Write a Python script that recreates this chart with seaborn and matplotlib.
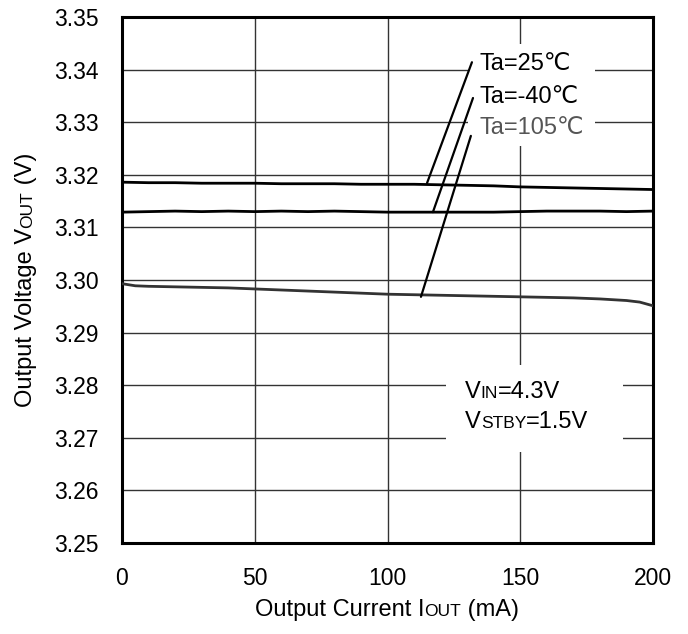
import matplotlib.pyplot as plt
import pandas as pd
import seaborn as sns
from matplotlib.patches import Rectangle

# % Data
current_25 = [0, 10, 20, 30, 40, 50, 60, 70, 80, 90, 100, 110, 120, 130, 140, 150, 160, 170, 180, 190, 200]
vout_25 = [3.3186, 3.3185, 3.3185, 3.3184, 3.3184, 3.3184, 3.3183, 3.3183, 3.3183, 3.3182, 3.3182,
           3.3182, 3.3181, 3.3180, 3.3179, 3.3177, 3.3176, 3.3175, 3.3174, 3.3173, 3.3172]

current_m40 = [0, 10, 20, 30, 40, 50, 60, 70, 80, 90, 100, 110, 120, 130, 140, 150, 160, 170, 180, 190, 200]
vout_m40 = [3.3129, 3.3130, 3.3131, 3.3130, 3.3131, 3.3130, 3.3131, 3.3130, 3.3131, 3.3130, 3.3129,
            3.3129, 3.3129, 3.3129, 3.3129, 3.3130, 3.3131, 3.3131, 3.3131, 3.3130, 3.3131]

current_105 = [0, 5, 10, 20, 30, 40, 50, 60, 70, 80, 90, 100, 110, 120, 130, 140, 150, 160, 170, 180, 190, 195, 200]
vout_105 = [3.2993, 3.2989, 3.2988, 3.2987, 3.2986, 3.2985, 3.2983, 3.2981, 3.2979, 3.2977, 3.2975, 3.2973,
            3.2972, 3.2971, 3.2970, 3.2969, 3.2968, 3.2967, 3.2966, 3.2964, 3.2961, 3.2958, 3.2951]

temp_labels = ["Ta=25℃", "Ta=-40℃", "Ta=105℃"]
x_ticks = [0, 50, 100, 150, 200]
y_ticks = [3.25, 3.26, 3.27, 3.28, 3.29, 3.30, 3.31, 3.32, 3.33, 3.34, 3.35]

df = pd.concat([
    pd.DataFrame({"current": current_25, "vout": vout_25, "temp": temp_labels[0]}),
    pd.DataFrame({"current": current_m40, "vout": vout_m40, "temp": temp_labels[1]}),
    pd.DataFrame({"current": current_105, "vout": vout_105, "temp": temp_labels[2]}),
])

# % Style
sns.set_theme(style="white")
plt.rcParams["font.family"] = ["Liberation Sans", "DejaVu Sans"]
FS = 16.5
LFS = 17
SMALL = 12.5

fig = plt.figure(figsize=(6.88, 6.34), dpi=100)
ax = fig.add_axes([122 / 688, 1 - 543 / 634, 531 / 688, 526 / 634])

sns.lineplot(
    data=df, x="current", y="vout", hue="temp",
    palette={temp_labels[0]: "black", temp_labels[1]: "black", temp_labels[2]: "#333333"},
    estimator=None, sort=False, linewidth=2.0, legend=False, ax=ax, zorder=3,
)

ax.set_xlim(0, 200)
ax.set_ylim(3.25, 3.35)
ax.set_xticks(x_ticks)
ax.set_yticks(y_ticks)
ax.set_yticklabels([f"{v:.2f}" for v in y_ticks])
ax.tick_params(axis="both", length=0, labelsize=FS, colors="black")
ax.tick_params(axis="y", pad=17)
ax.tick_params(axis="x", pad=17)
ax.set_xlabel("")
ax.set_ylabel("")
ax.grid(True, color="#333333", linewidth=1.0)
ax.set_axisbelow(True)
for sp in ax.spines.values():
    sp.set_color("black")
    sp.set_linewidth(2.2)

# white backing boxes behind the labels
ax.add_patch(Rectangle((130.3, 3.3255), 47.9, 0.0194, facecolor="white", edgecolor="none", zorder=1.5))
ax.add_patch(Rectangle((122, 3.2673), 66.7, 0.0165, facecolor="white", edgecolor="none", zorder=1.5))

# leader lines from labels to curves
leaders = [((131.8, 3.3414), (114.9, 3.31844)),
           ((132.2, 3.3346), (117.1, 3.3129)),
           ((131.4, 3.3274), (112.6, 3.2968))]
for top, bottom in leaders:
    ax.annotate("", xy=bottom, xytext=top,
                arrowprops=dict(arrowstyle="-", lw=1.6, color="black", shrinkA=0, shrinkB=0), zorder=4)

label_y = [3.3411, 3.3348, 3.3289]
label_colors = ["black", "black", "#555555"]
for lab, yy, cc in zip(temp_labels, label_y, label_colors):
    ax.text(134.8, yy, lab, fontsize=LFS, color=cc, ha="left", va="center", zorder=5)


def rich_text(anchor_disp, parts, rotation=0, ha="center"):
    # draw text pieces of different size on one baseline, positions in display pixels
    renderer = fig.canvas.get_renderer()
    items = []
    for s, size in parts:
        t = fig.text(0, 0, s, fontsize=size, color="black", rotation=rotation,
                     rotation_mode="anchor", ha="left", va="baseline")
        bb = t.get_window_extent(renderer)
        items.append((t, bb.height if rotation == 90 else bb.width))
    total = sum(w for _, w in items)
    x0, y0 = anchor_disp
    pos = -total / 2 if ha == "center" else 0
    inv = fig.transFigure.inverted()
    for t, w in items:
        if rotation == 90:
            t.set_position(inv.transform((x0, y0 + pos)))
        else:
            t.set_position(inv.transform((x0 + pos, y0)))
        pos += w


fig.canvas.draw()
H = 634
rich_text((387, H - 616), [("Output Current I", LFS), ("OUT", SMALL), (" (mA)", LFS)])
rich_text((32, H - 280), [("Output Voltage V", LFS), ("OUT", SMALL), (" (V)", LFS)], rotation=90)
rich_text((465, H - 398), [("V", LFS), ("IN", SMALL), ("=4.3V", LFS)], ha="left")
rich_text((465, H - 428), [("V", LFS), ("STBY", SMALL), ("=1.5V", LFS)], ha="left")

fig.savefig("out.png", dpi=100)
